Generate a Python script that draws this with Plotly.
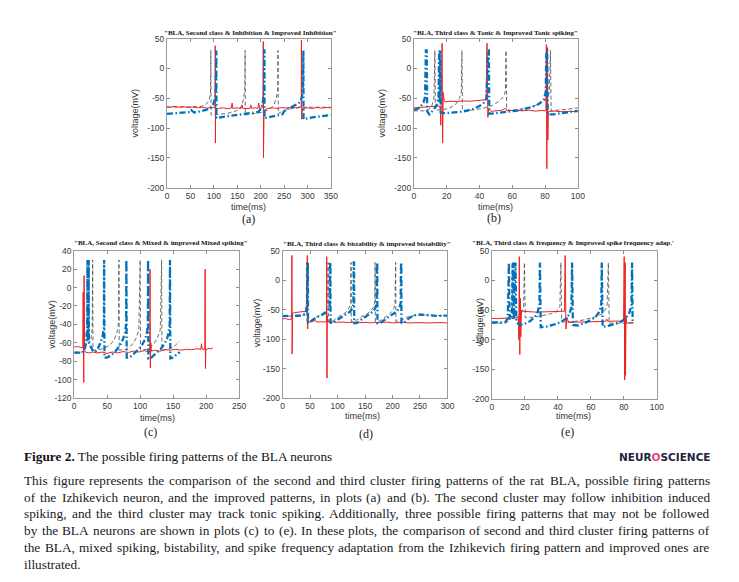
import plotly.graph_objects as go

W, H = 739, 582          # browser window
OFF = 8                  # default page margin around the plot div
FW, FH = W - 2 * OFF, H - 2 * OFF

# ---------------- data (time ms, voltage mV) ----------------
A_BLACK = [(0,-65),(40,-65),(70,-64),(80,-62),(86,-58),(90,-52),(92.8,-42),(93.6,30),(94.1,-78),(110,-77),(130,-75),(145,-72),(155,-68),(161,-60),(164,-50),(166,-38),(166.7,30),(167.2,-78),(185,-76),(205,-73),(220,-68),(229,-60),(233,-50),(236.3,-38),(237,30),(237.5,-76),(245,-72),(260,-68),(280,-66),(300,-65),(330,-65),(350,-65)]
A_RED = [(0,-64),(8,-65),(15,-63.5),(25,-65),(35,-64),(45,-65.5),(55,-64.5),(65,-66),(75,-65),(85,-66.5),(95,-65.5),(101,-66),(102.5,-63),(103,38),(103.4,-125),(103.8,-60),(104.5,-69),(110,-67),(120,-66),(130,-67.5),(137,-66.5),(139,-58),(140.5,-67),(150,-66),(158,-67),(160,-61),(161.5,-67),(170,-66.5),(177,-67),(179,-61),(180.5,-67),(188,-66),(194,-67),(196,-58),(197.5,-67),(203,-66),(205,-64),(205.5,45),(206,-150),(206.5,-56),(207.2,-70),(215,-67),(225,-66),(235,-67),(245,-65.5),(255,-66.5),(265,-65),(275,-66),(283,-65),(286.5,-64),(287,47),(287.5,-85),(288.2,-62),(289,-67),(300,-66),(310,-67),(320,-65.5),(330,-66.5),(340,-65.5),(350,-66)]
A_BLUE = [(0,-76),(20,-75),(40,-74),(50,-73),(52,-70),(55,-73),(58,-74),(70,-72),(85,-69),(93,-66),(98,-61),(101,-55),(103,-48),(104.3,-35),(104.6,30),(105.2,30),(105.5,-83),(120,-81),(140,-79),(160,-77),(180,-75),(195,-73),(200,-68),(203,-62),(205.5,-52),(207,-38),(207.3,30),(207.9,30),(208.2,-83),(225,-80),(240,-78),(246,-77),(250,-72),(256,-68),(270,-63),(280,-59),(285,-55),(288,-48),(290.2,-36),(290.5,30),(291.1,30),(291.4,-85),(310,-82),(330,-80),(350,-78)]

B_BLACK = [(0,-71),(6,-71),(9,-69),(11,-62),(12.2,-50),(12.8,30),(13.1,-70),(18,-69),(22,-66),(25.5,-60),(27.8,-50),(28.9,-40),(29.3,30),(29.6,-70),(35,-70),(42,-67),(48,-62),(52,-55),(54.8,-47),(55.8,-38),(56.2,30),(56.6,-70),(63,-69),(70,-66),(76,-60),(80,-53),(82.5,-43),(83.3,30),(83.7,-71),(90,-70),(95,-68),(100,-66)]
B_RED = [(0,-66),(4,-65.5),(8,-65),(12,-64.5),(14,-64),(16,-63),(16.4,-95),(16.8,20),(17.2,42),(17.5,-125),(17.9,-40),(18.3,-52),(19,-56),(22,-55),(26,-55.5),(30,-54.5),(34,-55),(38,-54),(42,-53),(44,-52.5),(44.6,42),(45.1,-82),(45.6,-68),(47,-72),(50,-71),(53,-70.5),(56,-67),(57,-71),(62,-70),(66,-71),(70,-70),(74,-71.5),(78,-70.5),(80.5,-71),(80.8,40),(81.1,-168),(81.4,35),(81.7,-120),(82,-72),(86,-71.5),(90,-72.5),(95,-72),(100,-72.5)]
B_BLUE = [(0,-69.5),(2,-68),(3.8,-65),(5.8,-57),(6.8,-48),(7.3,30),(7.8,30),(8.1,-72),(9.4,-77),(11.8,-70),(13.8,-62),(15,-50),(15.4,30),(15.7,-58),(16,30),(16.4,-74),(18.3,-75),(22,-74.5),(27.9,-73),(32,-71),(36,-68),(40,-63),(42.5,-58),(44.3,-50),(45.2,30),(45.7,30),(46,-76),(50,-75),(56,-73.5),(62,-71),(66,-69),(70,-66),(74,-63),(77,-58),(79.2,-52),(80.4,-40),(80.8,30),(81.3,30),(81.6,-77),(85,-77),(90,-75),(95,-73),(100,-71)]

C_BLACK = [(0,-70),(12,-70),(16,-67),(19,-60),(21.5,-45),(22.3,30),(22.8,-60),(25,-58),(27.3,-45),(28,30),(28.5,-68),(35,-68),(45,-66),(55,-62),(61,-56),(65,-48),(67.3,-38),(67.8,30),(68.3,-68),(78,-67),(88,-62),(94,-55),(98,-46),(100,30),(100.5,-68),(110,-67),(120,-62),(126,-55),(130.5,-46),(132.5,30),(133,-68),(143,-67),(153,-63),(160,-58)]
C_RED = [(0,-64.5),(5,-64),(10,-65),(13,-65.5),(13.6,-5),(14,-70),(14.5,-103),(15,13),(15.4,-40),(15.8,-68),(17,-70),(22,-71),(28,-70),(35,-71),(42,-70),(50,-71.5),(58,-70),(66,-71),(74,-69.5),(82,-70.5),(90,-69),(98,-70),(106,-68.5),(112,-69),(114.5,-70),(115,20),(115.4,-87),(115.8,-40),(116.2,-60),(116.8,-69),(122,-68),(130,-69),(138,-67.5),(146,-68),(154,-67),(162,-68),(170,-67),(178,-67.5),(186,-66.5),(192,-67),(193,-61),(194,-67),(198,-67),(198.5,20),(199,-88),(199.5,-68),(203,-66),(207,-66.5),(210,-65.5)]
C_BLUE = [(0,-71),(8,-71),(13,-70.5),(16,-67),(18,-59),(19.6,-45),(20.1,30),(20.5,-58),(21.3,-50),(21.8,30),(22.3,-60),(25,-64),(28,-68),(32,-70),(36,-66),(40,-60),(43,-53),(45,-44),(45.4,30),(45.9,-76),(50,-76),(57,-73),(64,-68),(70,-62),(74,-56),(77,-49),(78.7,-40),(79.1,30),(79.6,-76),(84,-76),(91,-72),(98,-67),(104,-61),(108,-55),(110.5,-48),(111.6,-40),(112,30),(112.5,-77),(117,-76),(124,-72),(131,-67),(137,-61),(141,-55),(143.5,-48),(144.8,-40),(145.2,30),(145.7,-77),(150,-76),(155,-73),(160,-70)]

D_BLACK = [(0,-61),(30,-61),(38,-59),(41.5,-52),(43.3,-40),(43.8,30),(44.3,-70),(50,-69),(58,-64),(66,-60),(74,-56),(79,-50),(82.3,-40),(82.8,30),(83.3,-70),(92,-69),(100,-63),(110,-58),(117,-53),(121.5,-46),(124,-38),(124.5,30),(125,-70),(133,-69),(142,-63),(152,-58),(160,-53),(165,-46),(167.8,-38),(168.3,30),(168.8,-70),(177,-69),(186,-63),(195,-57),(201,-51),(204.5,-42),(205.7,30),(206.2,-70),(214,-69),(225,-63),(240,-60),(260,-59),(280,-60),(300,-60)]
D_RED = [(0,-66),(5,-65),(10,-66.5),(14,-65.5),(16.5,-66),(17,42),(17.4,-125),(17.8,-45),(18.3,-56),(22,-55),(28,-54.5),(34,-54),(40,-53),(44,-52.5),(45,42),(45.6,-83),(46.2,-66),(48,-71),(55,-70),(60,-68),(62,-71),(70,-70.5),(76,-71),(79.8,-70),(80.3,40),(80.8,-166),(81.3,-60),(82,-71),(90,-70.5),(100,-71.5),(110,-71),(120,-72),(130,-71),(140,-72),(150,-71.5),(160,-72.5),(170,-71.5),(180,-72),(190,-71),(200,-72.5),(210,-72),(220,-71.5),(230,-72.5),(240,-72),(250,-72),(260,-72.5),(270,-72),(280,-72.5),(290,-72),(300,-72.5)]
D_BLUE = [(0,-61),(20,-60.5),(35,-60),(40,-58),(43,-53),(44.8,-45),(45.5,30),(46,30),(46.3,-72),(50,-71),(57,-66),(65,-62),(73,-59),(79,-55),(83,-50),(85.8,-42),(86.5,30),(87,30),(87.3,-72),(92,-72.5),(100,-67),(108,-62),(116,-58),(122,-54),(126,-49),(128.8,-42),(129.5,30),(130,30),(130.3,-73),(135,-73),(143,-67),(151,-62),(159,-58),(165,-53),(169,-47),(171.2,-40),(171.8,30),(172.3,30),(172.6,-73),(178,-72.5),(186,-67),(194,-62),(202,-58),(208,-53),(212,-47),(214.8,-40),(215.5,30),(216,30),(216.3,-72),(221,-72.5),(228,-66),(236,-61),(245,-58),(255,-58.5),(265,-60),(280,-60.5),(300,-60)]

E_BLACK = [(0,-72),(8,-72),(10,-69),(11.3,-58),(11.9,-42),(12.2,30),(12.6,-65),(15,-63),(17.5,-57),(19.2,-45),(19.7,30),(20.2,-63),(25,-62),(30,-60),(35,-57),(39,-53),(41.2,-44),(41.8,30),(42.3,-70),(48,-70),(55,-67),(62,-62),(67,-56),(69.8,-45),(70.6,30),(71.1,-72),(78,-72),(86,-72)]
E_RED = [(0,-64),(4,-64.5),(8,-63.5),(12,-63),(15,-63.5),(16,-63),(16.3,-100),(16.6,40),(16.9,-125),(17.2,-30),(17.5,-95),(17.9,-50),(18.5,-52),(22,-53),(27,-53.5),(32,-53),(37,-52.5),(42,-52),(44,-52),(44.4,42),(44.9,-82),(45.4,-62),(46.5,-71),(50,-70.5),(55,-70),(60,-70.5),(65,-69.5),(69,-69),(69.6,-65),(70.2,-69),(75,-68.5),(79.8,-69),(80.2,40),(80.5,-168),(80.8,30),(81.0,-160),(81.3,-60),(81.7,-72),(84,-71.5),(86,-71)]
E_BLUE = [(0,-71),(5,-71),(8,-70.5),(9.6,-64),(10.3,30),(10.7,-66),(12.2,-58),(12.9,30),(13.3,-66),(14.3,30),(14.8,-70),(16.5,-74),(18,-74.5),(20,-73),(23,-69),(26,-62),(27.8,-53),(28.8,-40),(29.1,30),(29.6,-79),(33,-78),(38,-74),(42,-70),(45,-64),(47,-57),(48.2,-45),(48.6,30),(49.1,-75),(52,-76),(56,-72),(60,-67),(63,-61),(65.3,-52),(66.3,-40),(66.6,30),(67.1,-78),(70,-77),(74,-74),(78,-70),(81,-64),(83.3,-55),(84.6,-42),(85,30),(85.3,-71),(85.6,-71)]

X_TICKS_A = [0, 50, 100, 150, 200, 250, 300, 350]
X_TICKS_B = [0, 20, 40, 60, 80, 100]
X_TICKS_C = [0, 50, 100, 150, 200, 250]
X_TICKS_D = [0, 50, 100, 150, 200, 250, 300]
X_TICKS_E = [0, 20, 40, 60, 80, 100]
Y_TICKS_MAIN = [-200, -150, -100, -50, 0, 50]
Y_TICKS_C = [-120, -100, -80, -60, -40, -20, 0, 20, 40]

TITLE_A = '"BLA, Second class &amp; Inhibition &amp; Improved Inhibition"'
TITLE_B = '"BLA, Third class &amp; Tonic &amp; Improved Tonic spiking"'
TITLE_C = '"BLA, Second class &amp; Mixed &amp; improved Mixed spiking"'
TITLE_D = '"BLA, Third class &amp; bistability &amp; improved bistability"'
TITLE_E = '"BLA, Third class &amp; frequency &amp; Improved spike frequency adap.\''

CAPTION_HEAD = 'Figure 2.'
CAPTION_REST = 'The possible firing patterns of the BLA neurons'
PARAGRAPH = [
    'This figure represents the comparison of the second and third cluster firing patterns of the rat BLA, possible firing patterns',
    'of the Izhikevich neuron, and the improved patterns, in plots (a) and (b). The second cluster may follow inhibition induced',
    'spiking, and the third cluster may track tonic spiking. Additionally, three possible firing patterns that may not be followed',
    'by the BLA neurons are shown in plots (c) to (e). In these plots, the comparison of second and third cluster firing patterns of',
    'the BLA, mixed spiking, bistability, and spike frequency adaptation from the Izhikevich firing pattern and improved ones are',
    'illustrated.',
]

# ---------------- helpers (page pixels -> paper coords) ----------------
def PX(x):
    return (x - OFF) / FW

def PY(y):
    return 1 - (y - OFF) / FH

annotations = []

def ann(text, x, y, size, family, color='#111', xanchor='center', yanchor='middle', angle=0):
    annotations.append(dict(text=text, x=PX(x), y=PY(y), xref='paper', yref='paper',
                            showarrow=False, xanchor=xanchor, yanchor=yanchor, textangle=angle,
                            font=dict(size=size, family=family, color=color),
                            borderpad=0, borderwidth=0))

PANELS = [
    dict(box=(167, 333, 34, 186), xr=[0, 350], xt=X_TICKS_A, yr=[-200, 50], yt=Y_TICKS_MAIN,
         series=(A_BLACK, A_RED, A_BLUE), title=TITLE_A, tx=252, ty=28, cap='(a)', cx=249, cy=218,
         ylx=135, yly=110, xlx=250, xly=205),
    dict(box=(417, 583, 34, 186), xr=[0, 100], xt=X_TICKS_B, yr=[-200, 50], yt=Y_TICKS_MAIN,
         series=(B_BLACK, B_RED, B_BLUE), title=TITLE_B, tx=500, ty=28, cap='(b)', cx=498, cy=217,
         ylx=385, yly=110, xlx=500, xly=205),
    dict(box=(73, 240, 250, 400), xr=[0, 250], xt=X_TICKS_C, yr=[-120, 40], yt=Y_TICKS_C,
         series=(C_BLACK, C_RED, C_BLUE), title=TITLE_C, tx=161, ty=242.5, cap='(c)', cx=150, cy=435,
         ylx=51, yly=325, xlx=157, xly=420),
    dict(box=(284, 451, 250, 400), xr=[0, 300], xt=X_TICKS_D, yr=[-200, 50], yt=Y_TICKS_MAIN,
         series=(D_BLACK, D_RED, D_BLUE), title=TITLE_D, tx=369, ty=243, cap='(d)', cx=368, cy=437,
         ylx=259, yly=323, xlx=365, xly=418),
    dict(box=(496, 663, 250, 401), xr=[0, 100], xt=X_TICKS_E, yr=[-200, 50], yt=Y_TICKS_MAIN,
         series=(E_BLACK, E_RED, E_BLUE), title=TITLE_E, tx=578, ty=242, cap='(e)', cx=573, cy=435,
         ylx=484, yly=323, xlx=579, xly=418),
]

STYLES = [
    dict(color='rgb(70,70,70)', width=0.8, dash='4px,2.5px'),
    dict(color='rgb(238,32,32)', width=1),
    dict(color='rgb(0,114,189)', width=2.3, dash='6px,2.5px,1.5px,2.5px'),
]

fig = go.Figure()
layout = {}
for i, p in enumerate(PANELS, start=1):
    sfx = '' if i == 1 else str(i)
    for series, style in zip(p['series'], STYLES):
        t = [pt[0] for pt in series]
        v = [pt[1] for pt in series]
        fig.add_trace(go.Scatter(x=t, y=v, mode='lines', line=style,
                                 xaxis='x' + sfx, yaxis='y' + sfx,
                                 showlegend=False, hoverinfo='skip'))
    x0, x1, y0, y1 = p['box']
    common = dict(ticks='inside', ticklen=3, tickwidth=0.8, tickcolor='#8a8a8a',
                  showline=True, linecolor='#9a9a9a', linewidth=1, mirror='ticks',
                  showgrid=False, zeroline=False, fixedrange=True,
                  tickfont=dict(family='Liberation Sans', size=8.5, color='#3a3a3a'))
    layout['xaxis' + sfx] = dict(domain=[PX(x0), PX(x1)], anchor='y' + sfx, range=p['xr'],
                                 tickvals=p['xt'], ticktext=[str(v) for v in p['xt']], **common)
    layout['yaxis' + sfx] = dict(domain=[PY(y1), PY(y0)], anchor='x' + sfx, range=p['yr'],
                                 tickvals=p['yt'], ticktext=[str(v) for v in p['yt']], **common)
    ann('<b>' + p['title'] + '</b>', p['tx'], p['ty'], 7, 'Liberation Serif', color='#111')
    ann(p['cap'], p['cx'], p['cy'], 12, 'Liberation Serif', color='#222')
    ann('time(ms)', p['xlx'], p['xly'], 9, 'Liberation Sans', color='#333')
    ann('voltage(mV)', p['ylx'], p['yly'], 9, 'Liberation Sans', color='#333', angle=-90)

# ---------------- caption text ----------------
_lower = [444,500,444,500,444,333,500,500,278,278,500,278,778,500,500,500,500,333,389,278,500,500,722,500,500,444]
_upper = [722,667,667,722,611,556,722,722,333,389,722,611,889,722,722,556,722,667,556,611,722,722,944,722,722,611]
TW = {chr(97 + k): w for k, w in enumerate(_lower)}
TW.update({chr(65 + k): w for k, w in enumerate(_upper)})
TW.update({str(d): 500 for d in range(10)})
TW.update({' ': 250, ',': 250, '.': 250, '(': 333, ')': 333, '-': 333, ';': 278, ':': 278, "'": 180, '"': 408})

def em(s):
    return sum(TW.get(c, 500) for c in s) / 1000.0

LEFT, RIGHT = 22, 716
LINE_Y = [484, 501, 518, 535, 552, 569]
fs = 13.3
for line in PARAGRAPH[:-1]:
    words = line.split(' ')
    need = sum(em(w) for w in words) + 0.2 * (len(words) - 1)
    fs = min(fs, (RIGHT - LEFT) / need)

for line, ly in zip(PARAGRAPH, LINE_Y):
    words = line.split(' ')
    if line is PARAGRAPH[-1]:
        ann(line, LEFT, ly, fs, 'Liberation Serif', color='#1a1a1a', xanchor='left')
        continue
    widths = [em(w) * fs for w in words]
    gap = (RIGHT - LEFT - sum(widths)) / (len(words) - 1)
    x = LEFT
    for w, wd in zip(words, widths):
        ann(w, x, ly, fs, 'Liberation Serif', color='#1a1a1a', xanchor='left')
        x += wd + gap

ann('<b>' + CAPTION_HEAD + '</b> ' + CAPTION_REST, LEFT, 459, fs, 'Liberation Serif',
    color='#111', xanchor='left')
ann('<b>NEUR<span style="color:#e6457f">O</span>SCIENCE</b>', 671, 460, 10.5, 'DejaVu Sans',
    color='#23233f')

fig.update_layout(width=FW, height=FH, margin=dict(l=0, r=0, t=0, b=0),
                  paper_bgcolor='white', plot_bgcolor='white',
                  annotations=annotations, **layout)

fig.write_html('out.html')
